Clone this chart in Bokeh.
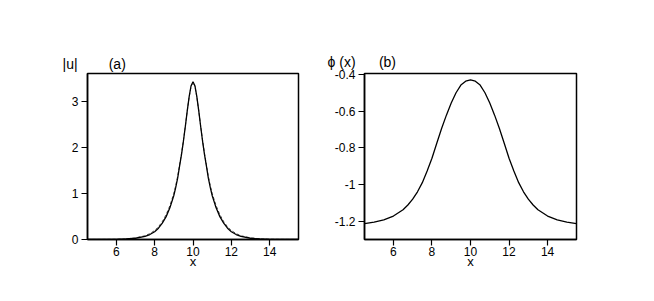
from bokeh.plotting import figure
from bokeh.layouts import row
from bokeh.models import FixedTicker, Range1d, Title
from bokeh.embed import file_html
from bokeh.resources import INLINE

# ---- data ----
x_u = [4.5, 5.0, 5.5, 6.0, 6.5, 7.0, 7.5, 7.75, 8.0, 8.2, 8.4, 8.6, 8.8,
       9.0, 9.1, 9.2, 9.3, 9.4, 9.5, 9.6, 9.7, 9.8, 9.9, 10.0,
       10.1, 10.2, 10.3, 10.4, 10.5, 10.6, 10.7, 10.8, 10.9, 11.0,
       11.2, 11.4, 11.6, 11.8, 12.0, 12.25, 12.5, 13.0, 13.5, 14.0, 14.5, 15.0, 15.5]
u_solid = [0.0003, 0.0007, 0.0017, 0.0042, 0.0105, 0.027, 0.067, 0.107, 0.169, 0.245,
           0.354, 0.496, 0.692, 0.954, 1.13, 1.33, 1.59, 1.84, 2.13, 2.45, 2.79,
           3.10, 3.335, 3.42, 3.335, 3.10, 2.79, 2.45, 2.13, 1.84, 1.59, 1.33,
           1.13, 0.954, 0.692, 0.496, 0.354, 0.245, 0.169, 0.107, 0.067, 0.027,
           0.0105, 0.0042, 0.0017, 0.0007, 0.0003]
u_dashed = [0.0004, 0.001, 0.0025, 0.006, 0.014, 0.035, 0.082, 0.127, 0.195, 0.275,
            0.39, 0.54, 0.74, 1.0, 1.17, 1.37, 1.62, 1.87, 2.15, 2.46, 2.79,
            3.09, 3.32, 3.40, 3.32, 3.09, 2.79, 2.46, 2.15, 1.87, 1.62, 1.37,
            1.17, 1.0, 0.74, 0.54, 0.39, 0.275, 0.195, 0.127, 0.082, 0.035,
            0.014, 0.006, 0.0025, 0.001, 0.0004]

x_phi = [4.5, 5.0, 5.5, 6.0, 6.5, 6.75, 7.0, 7.25, 7.5, 7.75, 8.0, 8.25, 8.5, 8.75,
         9.0, 9.25, 9.5, 9.75, 10.0, 10.25, 10.5, 10.75, 11.0, 11.25, 11.5, 11.75,
         12.0, 12.25, 12.5, 12.75, 13.0, 13.25, 13.5, 14.0, 14.5, 15.0, 15.5]
phi = [-1.213, -1.205, -1.193, -1.172, -1.138, -1.112, -1.080, -1.040, -0.990, -0.927,
       -0.857, -0.775, -0.695, -0.622, -0.556, -0.500, -0.458, -0.437, -0.430,
       -0.437, -0.458, -0.500, -0.556, -0.622, -0.695, -0.775, -0.857, -0.927,
       -0.990, -1.040, -1.080, -1.112, -1.138, -1.172, -1.193, -1.205, -1.213]

x_ticks = [6, 8, 10, 12, 14]
u_ticks = [0, 1, 2, 3]
phi_ticks = [-1.2, -1.0, -0.8, -0.6, -0.4]
phi_tick_labels = {-1.2: "-1.2", -1.0: "-1", -0.8: "-0.8", -0.6: "-0.6", -0.4: "-0.4"}

FONT = "Liberation Sans"
NB = "\u00a0"


def style(p):
    p.outline_line_color = "black"
    p.outline_line_width = 1.5
    p.outline_line_alpha = 1
    for ax in (p.xaxis[0], p.yaxis[0]):
        ax.axis_line_color = "black"
        ax.axis_line_width = 1.5
        ax.major_tick_line_color = "black"
        ax.major_tick_line_width = 1.2
        ax.major_tick_out = 6
        ax.major_tick_in = 0
        ax.minor_tick_line_color = None
        ax.major_label_text_font = FONT
        ax.major_label_text_font_size = "12px"
        ax.major_label_text_color = "black"
        ax.major_label_standoff = 3
        ax.axis_label_text_font = FONT
        ax.axis_label_text_font_size = "13px"
        ax.axis_label_text_font_style = "normal"
        ax.axis_label_text_color = "black"
    p.xaxis.major_label_standoff = 1
    p.xgrid.visible = False
    p.ygrid.visible = False
    p.xaxis.axis_label = "x"
    p.xaxis.axis_label_standoff = -5
    p.xaxis.ticker = FixedTicker(ticks=x_ticks)


def add_title(p, text, offset, standoff):
    p.add_layout(Title(text=text, align="left", offset=offset, standoff=standoff,
                       text_font=FONT, text_font_size="14px", text_font_style="normal",
                       text_color="black"), "above")


# ---- left panel ----
p1 = figure(width=318, height=289, output_backend="svg", toolbar_location=None,
            x_range=Range1d(4.5, 15.5), y_range=Range1d(0, 3.6),
            min_border_left=87, min_border_right=20, min_border_top=73, min_border_bottom=50)
style(p1)
p1.yaxis.ticker = FixedTicker(ticks=u_ticks)
p1.line(x_u, u_dashed, line_color="#555555", line_width=1, line_dash="3 2")
p1.line(x_u, u_solid, line_color="black", line_width=1.3)
add_title(p1, "|u|" + NB * 8 + "(a)", -25, 4)

# ---- right panel ----
p2 = figure(width=278, height=289, output_backend="svg", toolbar_location=None,
            x_range=Range1d(4.5, 15.5), y_range=Range1d(-1.3, -0.395),
            min_border_left=46, min_border_right=20, min_border_top=73, min_border_bottom=50)
style(p2)
p2.yaxis.ticker = FixedTicker(ticks=phi_ticks)
p2.yaxis.major_label_overrides = phi_tick_labels
p2.line(x_phi, phi, line_color="black", line_width=1.3)
add_title(p2, "\u03d5" + NB + "(x)" + NB * 6 + "(b)", -37, 8)

layout = row(p1, p2)
open("out.html", "w").write(file_html(layout, INLINE))
